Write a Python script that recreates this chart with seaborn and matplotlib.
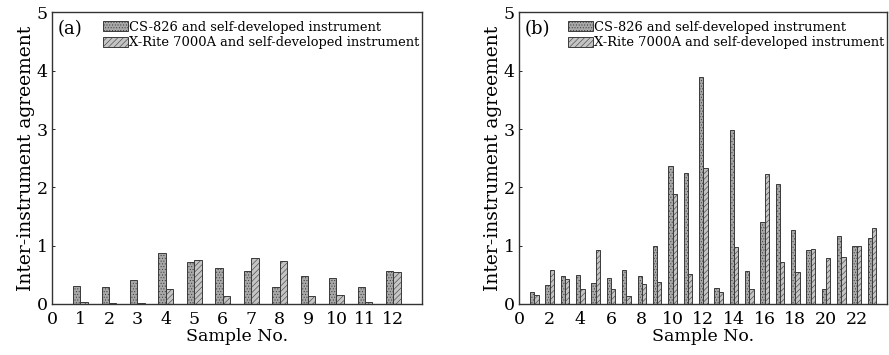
import numpy as np
import pandas as pd
import matplotlib
matplotlib.use("Agg")
import matplotlib.pyplot as plt
import seaborn as sns
from matplotlib.patches import Patch

sns.set_theme(style="ticks")
plt.rcParams['font.family'] = ['DejaVu Serif', 'Liberation Serif']
plt.rcParams['hatch.linewidth'] = 0.4
plt.rcParams['text.color'] = 'black'
plt.rcParams['axes.labelcolor'] = 'black'
plt.rcParams['xtick.color'] = 'black'
plt.rcParams['ytick.color'] = 'black'

series_names = ["CS-826 and self-developed instrument",
                "X-Rite 7000A and self-developed instrument"]

samples_a = list(range(1, 13))
cs_a = [0.31, 0.29, 0.41, 0.88, 0.71, 0.61, 0.57, 0.29, 0.47, 0.45, 0.29, 0.56]
xr_a = [0.04, 0.02, 0.02, 0.25, 0.75, 0.14, 0.78, 0.74, 0.14, 0.15, 0.04, 0.54]

samples_b = list(range(1, 24))
cs_b = [0.21, 0.33, 0.47, 0.50, 0.36, 0.44, 0.58, 0.47, 1.00, 2.37, 2.24, 3.89,
        0.28, 2.98, 0.57, 1.41, 2.06, 1.26, 0.93, 0.25, 1.16, 1.00, 1.13]
xr_b = [0.16, 0.58, 0.42, 0.25, 0.93, 0.26, 0.13, 0.34, 0.37, 1.89, 0.52, 2.33,
        0.21, 0.97, 0.25, 2.22, 0.71, 0.54, 0.94, 0.78, 0.81, 0.99, 1.30]

xticks_a = list(range(0, 13))
xticks_b = list(range(0, 24, 2))
yticks = [0, 1, 2, 3, 4, 5]

face = ["#a8a8a8", "#c4c4c4"]
hatches = ["......", "//////"]
edge = "#3a3a3a"


def make_df(samples, s1, s2):
    return pd.DataFrame({
        "Sample": samples * 2,
        "Value": s1 + s2,
        "Pair": [series_names[0]] * len(samples) + [series_names[1]] * len(samples),
    })


fig = plt.figure(figsize=(8.89, 3.55), dpi=100)
ax_a = fig.add_axes([0.0585, 0.144, 0.416, 0.821])
ax_b = fig.add_axes([0.5838, 0.144, 0.4145, 0.821])

panels = [
    (ax_a, make_df(samples_a, cs_a, xr_a), xticks_a, (0, 13), "(a)", 0.52, 0.138),
    (ax_b, make_df(samples_b, cs_b, xr_b), xticks_b, (0, 24), "(b)", 0.56, 0.133),
]

for ax, df, xt, xl, tag, w, lx in panels:
    sns.barplot(data=df, x="Sample", y="Value", hue="Pair", native_scale=True,
                width=w, dodge=True, palette=face, edgecolor=edge, linewidth=0.7,
                errorbar=None, legend=False, ax=ax)
    for i, cont in enumerate(ax.containers):
        for p in cont.patches:
            p.set_hatch(hatches[i])
    ax.set_xlim(*xl)
    ax.set_ylim(0, 5)
    ax.set_xticks(xt)
    ax.set_yticks(yticks)
    ax.tick_params(direction="in", length=2.5, width=0.6, labelsize=12.5)
    ax.tick_params(axis="x", pad=5)
    ax.tick_params(axis="y", pad=3)
    for s in ax.spines.values():
        s.set_linewidth(1.0)
        s.set_color("#333333")
    ax.set_xlabel("Sample No.", fontsize=12.5, labelpad=0)
    ax.set_ylabel("Inter-instrument agreement", fontsize=13.5, labelpad=1)
    handles = [Patch(facecolor=face[k], edgecolor=edge, hatch=hatches[k], linewidth=0.7)
               for k in range(2)]
    ax.legend(handles, series_names, loc="upper left", bbox_to_anchor=(lx, 0.972),
              frameon=False, fontsize=9.35, handlelength=1.9, handleheight=0.8,
              handletextpad=0.1, labelspacing=0.2, borderaxespad=0, borderpad=0)
    ax.text(0.015, 0.975, tag, transform=ax.transAxes, fontsize=13,
            va="top", ha="left")

fig.savefig("out.png", dpi=100)
